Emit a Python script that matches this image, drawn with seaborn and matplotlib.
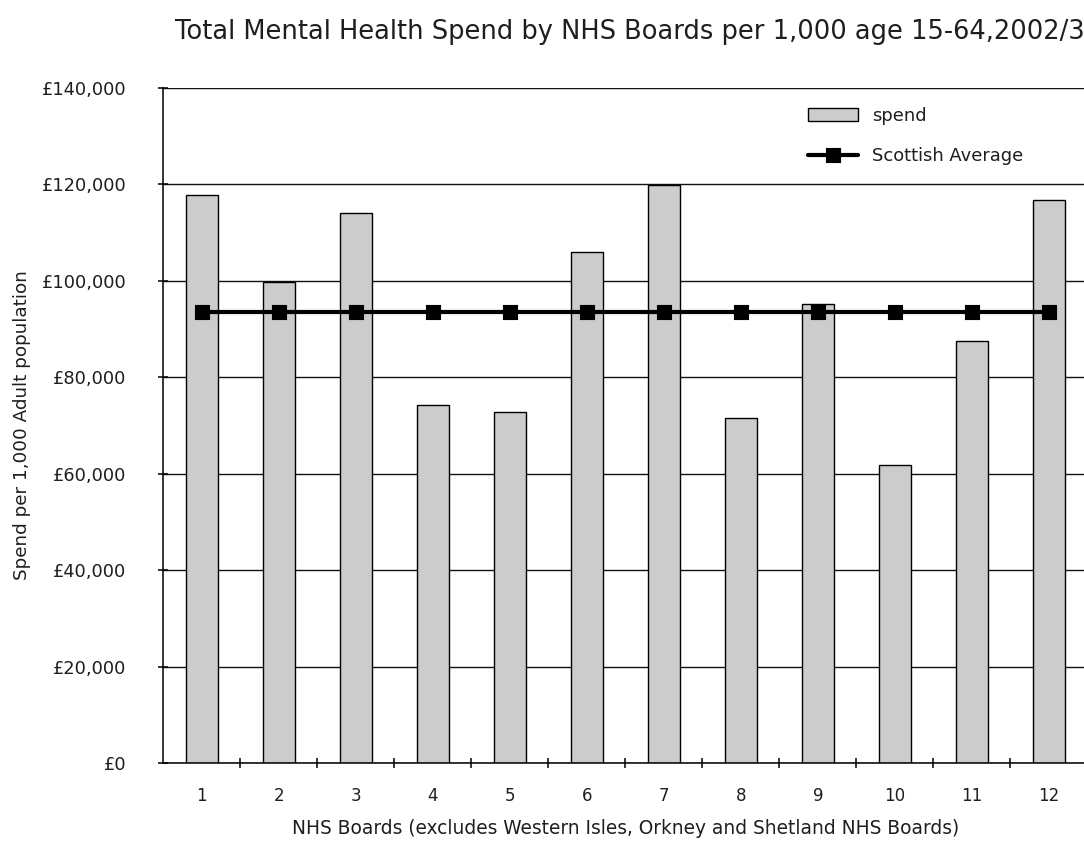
import matplotlib
matplotlib.use("Agg")
import matplotlib.pyplot as plt
import seaborn as sns

# NHS board numbers and mental health spend per 1,000 adults (age 15-64), 2002/3
boards = ["1", "2", "3", "4", "5", "6", "7", "8", "9", "10", "11", "12"]
spend = [117800, 99700, 114100, 74300, 72700, 106000, 119900, 71500, 95200, 61700, 87400, 116700]
scottish_average = 93600
average_line = [scottish_average] * len(boards)

y_ticks = [0, 20000, 40000, 60000, 80000, 100000, 120000, 140000]
y_tick_labels = ["£0", "£20,000", "£40,000", "£60,000", "£80,000", "£100,000", "£120,000", "£140,000"]

sns.set_style("white")
plt.rcParams["font.family"] = ["DejaVu Sans"]
text_color = "#1e1e1e"

W, H = 1084, 842
fig = plt.figure(figsize=(W / 100, H / 100), dpi=100)
left, right, top, bottom = 163.3, 1087.5, 87.7, 763.0
ax = fig.add_axes([left / W, 1 - bottom / H, (right - left) / W, (bottom - top) / H])

sns.barplot(x=boards, y=spend, color="#cccccc", edgecolor="black", linewidth=1.0,
            width=0.42, saturation=1, label="spend", ax=ax, zorder=2)
sns.pointplot(x=boards, y=average_line, color="black", markers="s", errorbar=None,
              markersize=8.5, linewidth=3.0, label="Scottish Average", ax=ax, zorder=3)

ax.set_xlim(-0.5, len(boards) - 0.5)
ax.set_ylim(0, 140000)
ax.set_yticks(y_ticks)
ax.set_yticklabels(y_tick_labels)

ax.set_axisbelow(True)
ax.yaxis.grid(True, color="#111111", linewidth=1.0)
ax.xaxis.grid(False)

for s in ("top", "right"):
    ax.spines[s].set_visible(False)
for s in ("left", "bottom"):
    ax.spines[s].set_color("black")
    ax.spines[s].set_linewidth(1.1)

# category labels without ticks; small separators between boards
ax.set_xticks(range(len(boards)))
ax.set_xticklabels(boards)
ax.set_xticks([i + 0.5 for i in range(len(boards) - 1)], minor=True)
ax.tick_params(axis="x", which="major", length=0, pad=17, labelsize=12, labelcolor=text_color)
ax.tick_params(axis="x", which="minor", direction="inout", length=7, width=1.1, color="black", bottom=True)
ax.tick_params(axis="y", which="major", direction="inout", length=7, width=1.1, color="black",
               left=True, pad=23, labelsize=12.8, labelcolor=text_color)

ax.set_xlabel("NHS Boards (excludes Western Isles, Orkney and Shetland NHS Boards)",
              fontsize=13.4, color=text_color, labelpad=10)
ax.set_ylabel("Spend per 1,000 Adult population", fontsize=13.2, color=text_color)
ax.yaxis.set_label_coords((31 - left) / (right - left), 0.5)

fig.text(175 / W, 1 - 32 / H, "Total Mental Health Spend by NHS Boards per 1,000 age 15-64,2002/3",
         ha="left", va="center", fontsize=18.5, color=text_color)

handles, labels = ax.get_legend_handles_labels()
order = [labels.index("spend"), labels.index("Scottish Average")]
ax.legend([handles[i] for i in order], [labels[i] for i in order],
          loc="upper left", bbox_to_anchor=(808 / W, 1 - 107 / H), bbox_transform=fig.transFigure,
          frameon=False, fontsize=12.9, handlelength=2.8, handleheight=0.7,
          handletextpad=0.8, labelspacing=1.25, borderpad=0, borderaxespad=0,
          labelcolor=text_color)

fig.savefig("out.png", dpi=100)
